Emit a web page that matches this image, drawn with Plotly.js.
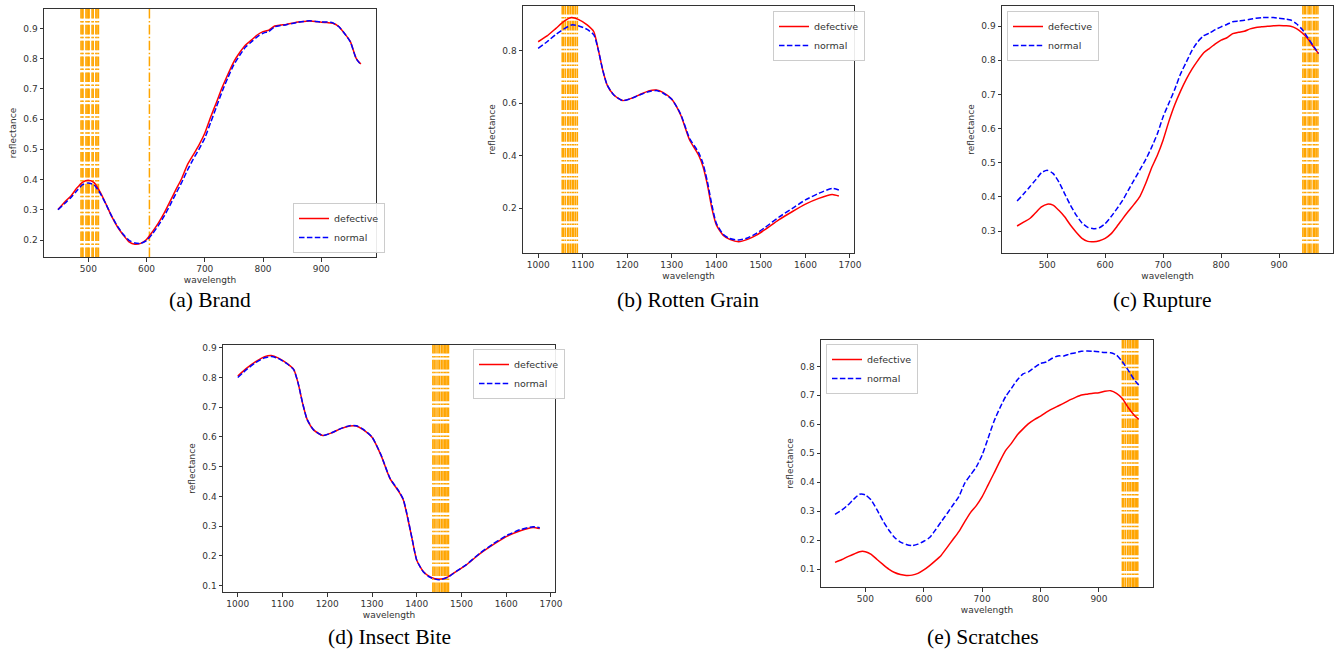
<!DOCTYPE html>
<html>
<head>
<meta charset="utf-8">
<script src="https://cdn.plot.ly/plotly-3.0.1.min.js"></script>
<style>
  html, body { margin: 0; padding: 0; background: #fff; }
  #chart { width: 1342px; height: 653px; }
</style>
</head>
<body>
<div id="chart"></div>
<script>
// ---------------- DATA ----------------
const waveVis = [448,460,470,480,490,500,510,520,530,540,550,560,570,580,590,600,610,620,630,640,650,660,670,680,690,700,710,720,730,740,750,760,770,780,790,800,810,820,830,840,850,860,870,880,890,900,910,920,930,940,950,960,968];
const waveNir = [1000,1020,1040,1060,1075,1090,1110,1125,1135,1145,1155,1170,1190,1210,1230,1250,1265,1280,1300,1320,1340,1360,1370,1380,1390,1400,1415,1430,1450,1470,1490,1510,1540,1570,1600,1630,1660,1675];

// (a) Brand
const brandDefective = [0.301,0.327,0.345,0.371,0.391,0.398,0.390,0.360,0.321,0.279,0.244,0.217,0.194,0.186,0.189,0.202,0.227,0.255,0.288,0.326,0.365,0.402,0.448,0.481,0.514,0.553,0.606,0.655,0.705,0.749,0.790,0.820,0.845,0.861,0.878,0.889,0.894,0.908,0.911,0.913,0.917,0.921,0.923,0.924,0.923,0.920,0.919,0.917,0.906,0.883,0.856,0.801,0.782];
const brandNormal    = [0.300,0.322,0.340,0.362,0.383,0.389,0.382,0.356,0.320,0.280,0.246,0.219,0.199,0.190,0.189,0.198,0.220,0.247,0.278,0.314,0.352,0.389,0.430,0.467,0.500,0.537,0.588,0.640,0.692,0.738,0.780,0.811,0.838,0.855,0.872,0.884,0.890,0.905,0.909,0.912,0.916,0.920,0.923,0.925,0.923,0.921,0.921,0.918,0.906,0.883,0.855,0.800,0.780];
const brandBands = [487.5,489.5,491,496,498,500,501.5,506.5,508.5,513,515,517.5,605];

// (b) Rotten Grain
const rottenDefective = [0.834,0.856,0.885,0.914,0.926,0.919,0.898,0.872,0.803,0.726,0.669,0.631,0.610,0.619,0.634,0.648,0.650,0.641,0.615,0.555,0.460,0.403,0.359,0.289,0.200,0.137,0.098,0.082,0.073,0.082,0.098,0.120,0.156,0.187,0.216,0.238,0.253,0.247];
const rottenNormal    = [0.809,0.834,0.862,0.885,0.898,0.895,0.881,0.860,0.803,0.726,0.669,0.631,0.610,0.619,0.633,0.645,0.648,0.639,0.615,0.558,0.466,0.413,0.371,0.301,0.213,0.143,0.102,0.085,0.079,0.087,0.105,0.128,0.166,0.199,0.232,0.257,0.276,0.270];
const rottenBands = [1054,1057,1061,1066,1069,1073,1077,1080,1084,1088];

// (c) Rupture
const ruptureDefective = [0.315,0.327,0.337,0.354,0.371,0.379,0.376,0.361,0.342,0.318,0.297,0.279,0.270,0.269,0.272,0.279,0.292,0.313,0.336,0.358,0.379,0.402,0.440,0.485,0.522,0.567,0.622,0.670,0.710,0.745,0.775,0.800,0.822,0.835,0.848,0.859,0.866,0.878,0.882,0.885,0.892,0.896,0.898,0.900,0.901,0.902,0.901,0.900,0.893,0.880,0.862,0.838,0.820];
const ruptureNormal    = [0.388,0.410,0.430,0.450,0.471,0.478,0.469,0.444,0.410,0.376,0.347,0.324,0.311,0.307,0.310,0.322,0.342,0.365,0.390,0.420,0.450,0.480,0.510,0.545,0.585,0.635,0.675,0.715,0.760,0.795,0.830,0.855,0.872,0.880,0.890,0.898,0.905,0.913,0.915,0.917,0.920,0.923,0.925,0.925,0.925,0.923,0.921,0.918,0.907,0.890,0.865,0.840,0.820];
const ruptureBands = [941,943.5,946,950,952.5,955,959,961.5,964,967];

// (d) Insect Bite
const insectDefective = [0.805,0.831,0.853,0.870,0.874,0.866,0.847,0.827,0.780,0.713,0.659,0.623,0.605,0.614,0.628,0.637,0.637,0.625,0.599,0.539,0.461,0.416,0.388,0.326,0.254,0.186,0.147,0.130,0.122,0.130,0.150,0.169,0.206,0.237,0.265,0.284,0.296,0.292];
const insectNormal    = [0.800,0.827,0.850,0.866,0.870,0.864,0.846,0.826,0.780,0.713,0.659,0.623,0.605,0.614,0.628,0.638,0.638,0.626,0.600,0.540,0.462,0.418,0.390,0.328,0.255,0.186,0.146,0.128,0.120,0.129,0.150,0.170,0.208,0.240,0.268,0.288,0.298,0.295];
const insectBands = [1436,1439,1443,1447.5,1451,1455,1458.5,1462,1465,1468,1471];

// (e) Scratches
const scratchDefective = [0.123,0.133,0.143,0.151,0.160,0.160,0.151,0.133,0.116,0.100,0.088,0.081,0.078,0.079,0.085,0.097,0.112,0.129,0.148,0.175,0.202,0.229,0.263,0.295,0.319,0.350,0.390,0.430,0.471,0.509,0.534,0.563,0.584,0.603,0.617,0.628,0.642,0.653,0.663,0.673,0.684,0.693,0.701,0.704,0.707,0.709,0.714,0.716,0.707,0.689,0.658,0.632,0.617];
const scratchNormal    = [0.289,0.304,0.321,0.341,0.358,0.356,0.338,0.304,0.267,0.235,0.209,0.193,0.185,0.181,0.186,0.196,0.209,0.235,0.264,0.292,0.321,0.350,0.396,0.425,0.453,0.494,0.551,0.609,0.655,0.695,0.724,0.753,0.774,0.782,0.797,0.810,0.815,0.828,0.836,0.836,0.843,0.847,0.852,0.853,0.852,0.850,0.848,0.847,0.839,0.816,0.787,0.755,0.736];
const scratchBands = [940,942.5,945.5,949,951.5,954,957,959.5,962,964.5,966.5];

const seriesNames = ['defective', 'normal'];
const captions = ['(a) Brand', '(b) Rotten Grain', '(c) Rupture', '(d) Insect Bite', '(e) Scratches'];

// ---------------- LAYOUT / DRAW ----------------
const W = 1342, H = 653;
const panels = [
  {x: waveVis, d: brandDefective,   n: brandNormal,   bands: brandBands,
   px: [44, 376],  py: [9, 257],   xr: [424, 994],  yr: [0.144, 0.964], xd: 100, yd: 0.1,
   leg: [293, 253], legAnchor: 'bottom', cap: [210, 300]},
  {x: waveNir, d: rottenDefective,  n: rottenNormal,  bands: rottenBands,
   px: [523, 854], py: [6, 253],   xr: [966, 1709], yr: [0.03, 0.97],   xd: 100, yd: 0.2,
   leg: [773, 11], legAnchor: 'top', cap: [688, 300]},
  {x: waveVis, d: ruptureDefective, n: ruptureNormal, bands: ruptureBands,
   px: [1002, 1333], py: [6, 253], xr: [422, 993],  yr: [0.236, 0.959], xd: 100, yd: 0.1,
   leg: [1007, 11], legAnchor: 'top', cap: [1162, 300]},
  {x: waveNir, d: insectDefective,  n: insectNormal,  bands: insectBands,
   px: [223, 555], py: [345, 592], xr: [967, 1709], yr: [0.079, 0.909], xd: 100, yd: 0.1,
   leg: [473, 349], legAnchor: 'top', cap: [389, 637]},
  {x: waveVis, d: scratchDefective, n: scratchNormal, bands: scratchBands,
   px: [821, 1153], py: [340, 587], xr: [424, 992.5], yr: [0.038, 0.891], xd: 100, yd: 0.1,
   leg: [826, 344], legAnchor: 'top', cap: [983, 637]}
];

const tickFont = {family: 'DejaVu Sans', size: 9, color: '#333'};
const titleFont = {family: 'DejaVu Sans', size: 9, color: '#333'};
const traces = [];
const shapes = [];
const annotations = [];
const layout = {
  width: W, height: H,
  margin: {l: 0, r: 0, t: 0, b: 0},
  paper_bgcolor: '#fff', plot_bgcolor: '#fff',
  showlegend: true,
  font: {family: 'DejaVu Sans', color: '#333'}
};

panels.forEach((p, i) => {
  const k = i + 1;
  const xa = 'x' + (k === 1 ? '' : k), ya = 'y' + (k === 1 ? '' : k);
  const legName = 'legend' + (k === 1 ? '' : k);
  traces.push({x: p.x, y: p.d, type: 'scatter', mode: 'lines', name: seriesNames[0],
    xaxis: xa, yaxis: ya, legend: legName,
    line: {color: '#ff0000', width: 1.5, shape: 'spline', smoothing: 0.6}});
  traces.push({x: p.x, y: p.n, type: 'scatter', mode: 'lines', name: seriesNames[1],
    xaxis: xa, yaxis: ya, legend: legName,
    line: {color: '#0000ff', width: 1.5, dash: '5.5px,2.4px', shape: 'spline', smoothing: 0.6}});

  const axBase = {showline: true, mirror: true, linecolor: '#333', linewidth: 1,
    ticks: 'outside', ticklen: 3.5, tickcolor: '#333', tickwidth: 1,
    showgrid: false, zeroline: false, tickfont: tickFont, fixedrange: true};
  layout['xaxis' + (k === 1 ? '' : k)] = Object.assign({}, axBase, {
    domain: [p.px[0] / W, p.px[1] / W], range: p.xr, dtick: p.xd, tick0: 0,
    anchor: ya, title: {text: 'wavelength', font: titleFont, standoff: 3}
  });
  layout['yaxis' + (k === 1 ? '' : k)] = Object.assign({}, axBase, {
    domain: [1 - p.py[1] / H, 1 - p.py[0] / H], range: p.yr, dtick: p.yd, tick0: 0,
    anchor: xa, title: {text: 'reflectance', font: titleFont, standoff: 5}
  });
  layout[legName] = {
    x: p.leg[0] / W, y: 1 - p.leg[1] / H, xanchor: 'left', yanchor: p.legAnchor,
    bgcolor: 'rgba(255,255,255,0.9)', bordercolor: '#cccccc', borderwidth: 1,
    font: {family: 'DejaVu Sans', size: 9.5, color: '#333'}, tracegroupgap: 0, itemwidth: 30
  };
  p.bands.forEach(w => {
    shapes.push({type: 'line', xref: xa, yref: ya + ' domain', x0: w, x1: w, y0: 0, y1: 1,
      layer: 'below', line: {color: '#ffa500', width: 1.5, dash: '9.6px,2.4px,1.5px,2.4px'}});
  });
  annotations.push({text: captions[i], xref: 'paper', yref: 'paper',
    x: p.cap[0] / W, y: 1 - p.cap[1] / H, xanchor: 'center', yanchor: 'middle',
    showarrow: false, font: {family: 'Liberation Serif', size: 21.5, color: '#000'}});
});

layout.shapes = shapes;
layout.annotations = annotations;

Plotly.newPlot('chart', traces, layout, {displayModeBar: false, staticPlot: true});
</script>
</body>
</html>
